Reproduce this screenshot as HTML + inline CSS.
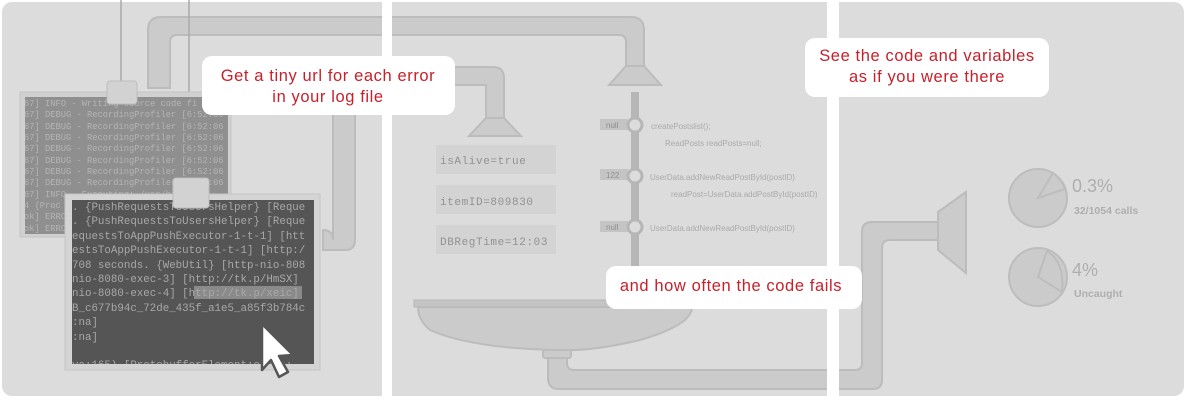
<!DOCTYPE html>
<html><head><meta charset="utf-8"><style>
html,body{margin:0;padding:0;background:#fff;}
svg{display:block;}
.lbl{font-family:"Liberation Sans",sans-serif;font-size:16.5px;letter-spacing:0.6px;fill:#c8202a;text-anchor:middle;}
.mono{font-family:"Liberation Mono",monospace;}
.code{font-family:"Liberation Sans",sans-serif;font-size:8px;fill:#aaa;}
</style></head><body>
<svg width="1186" height="400" viewBox="0 0 1186 400" xmlns="http://www.w3.org/2000/svg">
<defs>
<clipPath id="cb"><rect x="25" y="97" width="203" height="137"/></clipPath>
<clipPath id="cf"><rect x="72" y="200" width="242" height="164"/></clipPath>
</defs>
<rect x="2" y="2" width="1182" height="394" rx="10" fill="#dcdcdc"/>

<g fill="#cbcbcb" stroke="#bcbcbc" stroke-width="2">
<path d="M148 88 V30 Q148 17 161 17 H631 Q644 17 644 30 V66 H626 V42 Q626 35 619 35 H177 Q170 35 170 42 V88 Z"/>
<polygon points="626,66 644,66 661,85 609,85"/>
<path d="M333 240 Q333 230 323 230 L323 250 H345 Q355 250 355 240 V92 Q355 85 362 85 H486 V118 H504 V78 Q504 67 493 67 H346 Q333 67 333 80 Z"/>
<polygon points="486,118 504,118 521,136 469,136"/>
<path d="M548 357 V378 Q548 389 559 389 H873 Q882 389 882 380 V248 Q882 240 890 240 H938 V222 H872 Q862 222 862 232 V363 Q862 370 855 370 H574 Q567 370 567 363 V357 Z"/>
<polygon points="938,212 966,192 966,273 938,250"/>
<path d="M418 307 H692 Q692 325 640 340 Q590 352 555 350 Q470 348 430 330 Q418 320 418 307 Z"/>
<rect x="543" y="350" width="28" height="8" rx="2"/>
</g>
<rect x="414" y="300" width="281" height="7" fill="#c4c4c4" stroke="#b6b6b6" stroke-width="1"/>

<line x1="121" y1="0" x2="121" y2="82" stroke="#aaa" stroke-width="1.5"/>
<line x1="189" y1="0" x2="189" y2="180" stroke="#aaa" stroke-width="1.5"/>

<rect x="20" y="92" width="211" height="145" fill="#d0d0d0" stroke="#c4c4c4"/>
<rect x="25" y="97" width="203" height="137" fill="#8f8f8f"/>
<g clip-path="url(#cb)" class="mono" font-size="8.75" fill="#b4b4b4">
<text x="24" y="106">67] INFO  - Writing source code fi</text>
<text x="24" y="117">67] DEBUG - RecordingProfiler [6:52:06</text>
<text x="24" y="129">67] DEBUG - RecordingProfiler [6:52:06</text>
<text x="24" y="140">67] DEBUG - RecordingProfiler [6:52:06</text>
<text x="24" y="151">67] DEBUG - RecordingProfiler [6:52:06</text>
<text x="24" y="163">67] DEBUG - RecordingProfiler [6:52:06</text>
<text x="24" y="174">67] DEBUG - RecordingProfiler [6:52:06</text>
<text x="24" y="185">67] DEBUG - RecordingProfiler [6:52:06</text>
<text x="24" y="197">67] INFO  - Executing: /usr/bin/</text>
<text x="24" y="208">4  {Proc</text>
<text x="24" y="219">ok] ERRO</text>
<text x="24" y="231">ok] ERRO</text>
</g>
<rect x="107" y="81" width="30" height="23" rx="3" fill="#d2d2d2" stroke="#bdbdbd"/>

<rect x="65" y="194" width="255" height="176" fill="#d4d4d4" stroke="#c4c4c4"/>
<rect x="72" y="200" width="242" height="164" fill="#555"/>
<rect x="194" y="286" width="108" height="13" fill="#8a8a8a"/>
<g clip-path="url(#cf)" class="mono" font-size="10.8" fill="#a8a8a8">
<text x="72" y="210">. {PushRequestsToUsersHelper} [Reque</text>
<text x="72" y="224">. {PushRequestsToUsersHelper} [Reque</text>
<text x="72" y="239">equestsToAppPushExecutor-1-t-1] [htt</text>
<text x="72" y="253">estsToAppPushExecutor-1-t-1] [http:/</text>
<text x="72" y="268">708 seconds. {WebUtil} [http-nio-808</text>
<text x="72" y="282">nio-8080-exec-3] [http://tk.p/HmSX]</text>
<text x="72" y="296">nio-8080-exec-4] [http://tk.p/xeic]</text>
<text x="72" y="311">B_c677b94c_72de_435f_a1e5_a85f3b784c</text>
<text x="72" y="325">:na]</text>
<text x="72" y="340">:na]</text>
<text x="72" y="368">va:165)  [ProtobufferElement:class:</text>
</g>
<rect x="173" y="178" width="36" height="30" rx="3" fill="#d2d2d2" stroke="#bdbdbd"/>
<path d="M262 324 L293 355 L279 356 L288 372 L279 377 L271 360 L262 370 Z" fill="#fff" stroke="#555" stroke-width="2.5" stroke-linejoin="round"/>

<g fill="#d3d3d3"><rect x="436" y="145" width="120" height="29"/><rect x="436" y="185" width="120" height="29"/><rect x="436" y="225" width="120" height="29"/></g>
<g class="mono" font-size="11" fill="#929292" letter-spacing="0.6">
<text x="440" y="164">isAlive=true</text>
<text x="440" y="205">itemID=809830</text>
<text x="440" y="245">DBRegTime=12:03</text>
</g>

<rect x="631" y="92" width="8" height="175" fill="#b6b6b6"/>
<g fill="#c4c4c4"><rect x="600" y="119" width="28" height="11"/><rect x="600" y="169" width="28" height="11"/><rect x="600" y="221" width="28" height="11"/></g>
<g font-family="Liberation Sans,sans-serif" font-size="8" fill="#8e8e8e"><text x="606" y="128">null</text><text x="606" y="178">122</text><text x="606" y="230">null</text></g>
<g fill="#dcdcdc" stroke="#b6b6b6" stroke-width="3"><circle cx="635" cy="125" r="7"/><circle cx="635" cy="176" r="7"/><circle cx="635" cy="227" r="7"/></g>
<text class="code" x="651" y="129">createPostslist();</text>
<text class="code" x="665" y="146">ReadPosts readPosts=null;</text>
<text class="code" x="650" y="180">UserData.addNewReadPostById(postID)</text>
<text class="code" x="671" y="197">readPost=UserData.addPostById(postID)</text>
<text class="code" x="650" y="231">UserData.addNewReadPostById(postID)</text>

<g fill="#cbcbcb" stroke="#bdbdbd" stroke-width="2">
<circle cx="1038" cy="198" r="29"/>
<path d="M1038 198 L1053 173 Q1062 180 1065 189 Z"/>
<circle cx="1038" cy="277" r="29"/>
<path d="M1038 277 L1047 251 Q1065 262 1062 292 Z"/>
</g>
<g font-family="Liberation Sans,sans-serif" fill="#aeaeae">
<text x="1072" y="192" font-size="18">0.3%</text>
<text x="1074" y="214" font-size="10.5" font-weight="bold">32/1054 calls</text>
<text x="1072" y="276" font-size="18">4%</text>
<text x="1074" y="297" font-size="10.5" font-weight="bold">Uncaught</text>
</g>

<rect x="382" y="0" width="10" height="400" fill="#fff"/>
<rect x="827" y="0" width="12" height="400" fill="#fff"/>

<rect x="202" y="56" width="253" height="59" rx="10" fill="#fff"/>
<text class="lbl" x="328" y="81">Get a tiny url  for each error</text>
<text class="lbl" x="328" y="102">in your log file</text>
<rect x="805" y="38" width="244" height="59" rx="10" fill="#fff"/>
<text class="lbl" x="927" y="61">See the code and variables</text>
<text class="lbl" x="927" y="82">as if you were there</text>
<rect x="606" y="266" width="256" height="43" rx="10" fill="#fff"/>
<text class="lbl" x="731" y="291">and how often the code fails</text>
</svg>
</body></html>
